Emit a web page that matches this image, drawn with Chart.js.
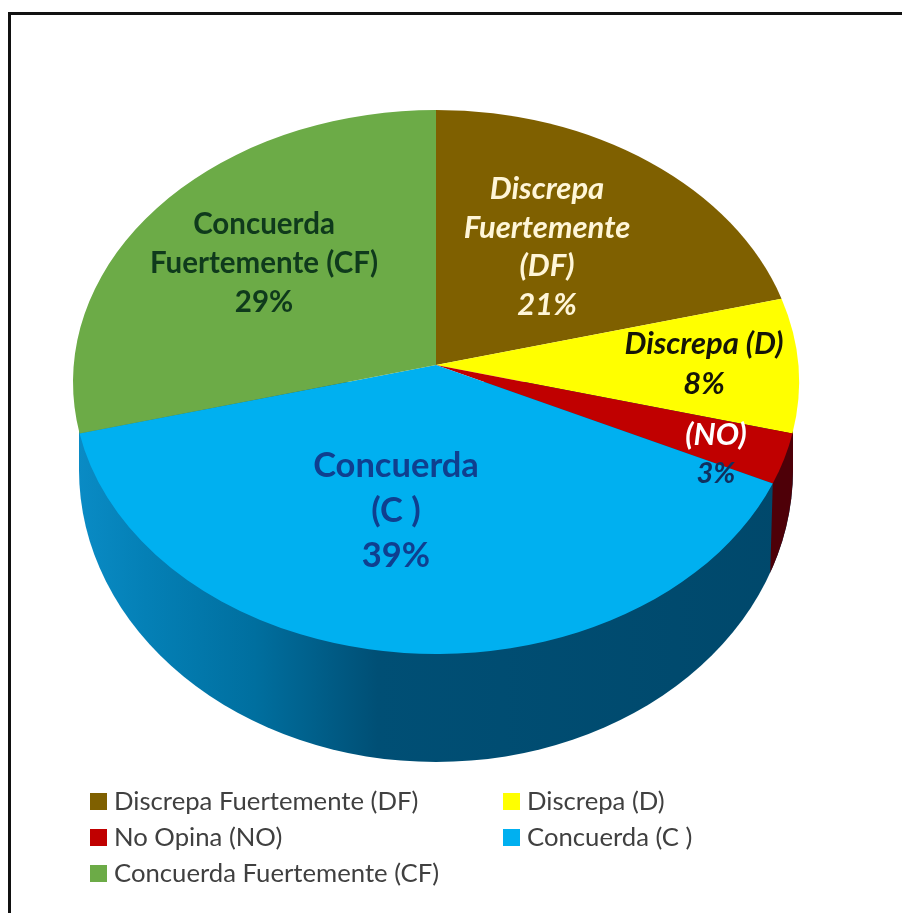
<!DOCTYPE html>
<html>
<head>
<meta charset="utf-8">
<script src="https://cdn.jsdelivr.net/npm/chart.js@4"></script>
<style>
    body { margin: 0; background: #fff; font-family: Lato, sans-serif; }
    #page { position: relative; width: 902px; height: 913px; overflow: hidden; }
    #frame { position: absolute; left: 8px; top: 12px; right: -4px; bottom: -4px; border: 3px solid #111; }
    canvas { position: absolute; left: 0; top: 0; }
    #legend { position: absolute; left: 90px; top: 782px; display: grid; grid-template-columns: 413px auto; font-size: 25.7px; line-height: 36px; color: #404040; }
    #legend span { display: inline-block; width: 17px; height: 17px; margin-right: 7px; }
</style>
</head>
<body>
<div id="page">
    <div id="frame"></div>
    <canvas id="pie-chart" width="902" height="913"></canvas>
    <div id="legend"></div>
</div>
<script>
// Chart data
const categories = ['Discrepa Fuertemente (DF)', 'Discrepa (D)', 'No Opina (NO)', 'Concuerda (C )', 'Concuerda Fuertemente (CF)'];
const percents = [21, 8, 3, 39, 29];
const sliceColors = ['#7f6000', '#ffff00', '#c00000', '#00b0f0', '#6cab47'];

// Perspective of the pie: the face is an ellipse and the pie centre sits above its middle
const faceRy = 272;
const centreShift = -0.0625;
const sideDepth = 105;
const bottomRadius = 357;
const bottomRy = 292;

// Slice labels
const sliceLabels = [
    { lines: ['Discrepa', 'Fuertemente', '(DF)', '21%'], x: 547, y: 189, gap: 38.5, font: 'italic bold 31px Lato', color: '#fff6d8' },
    { lines: ['Discrepa (D)', '8%'], x: 704, y: 344, gap: 40, font: 'italic bold 31px Lato', color: '#151508' },
    { lines: ['(NO)'], x: 716, y: 435, gap: 0, font: 'italic bold 31px Lato', color: '#fff' },
    { lines: ['3%'], x: 716, y: 474, gap: 0, font: 'italic bold 29px Lato', color: '#10305f' },
    { lines: ['Concuerda', '(C )', '39%'], x: 396, y: 466, gap: 45, font: 'bold 34.5px Lato', color: '#0f3f8f' },
    { lines: ['Concuerda', 'Fuertemente (CF)', '29%'], x: 264, y: 224, gap: 39, font: 'bold 29.5px Lato', color: '#0f3a1c' }
];

// Where a slice angle lands on the face ellipse after the perspective
function faceAngle(angle) {
    const k = centreShift;
    const w = 1 + k * Math.sin(angle);
    return Math.atan2((Math.sin(angle) + k) / w, Math.cos(angle) * Math.sqrt(1 - k * k) / w);
}

// Draws the pie side and then the slices in perspective
const tiltedPie = {
    id: 'tiltedPie',
    beforeDatasetsDraw(chart) {
        const ctx = chart.ctx;
        const arcs = chart.getDatasetMeta(0).data;
        const cx = arcs[0].x;
        const cy = arcs[0].y;
        const r = arcs[0].outerRadius;
        const faceY = cy - centreShift * faceRy;

        // Side wall outline
        function wallPath() {
            ctx.beginPath();
            ctx.ellipse(cx, cy + sideDepth, bottomRadius, bottomRy, 0, 0, Math.PI);
            ctx.lineTo(cx - bottomRadius, faceY);
            ctx.lineTo(cx + bottomRadius, faceY);
            ctx.closePath();
        }

        const wallGradient = ctx.createLinearGradient(cx - r, 0, cx + r, 0);
        wallGradient.addColorStop(0, '#0a8cc6');
        wallGradient.addColorStop(0.1, '#0480b6');
        wallGradient.addColorStop(0.25, '#006f9f');
        wallGradient.addColorStop(0.42, '#004f75');
        wallGradient.addColorStop(1, '#00486b');
        wallPath();
        ctx.fillStyle = wallGradient;
        ctx.fill();

        // The small red slice shows on the side too, right of where it meets the blue
        const redEnd = faceAngle(arcs[2].endAngle);
        const redX = cx + r * Math.cos(redEnd);
        const redY = faceY + faceRy * Math.sin(redEnd);
        ctx.save();
        ctx.beginPath();
        ctx.moveTo(redX, redY);
        ctx.lineTo(redX - 3, redY + sideDepth);
        ctx.lineTo(chart.width, redY + sideDepth);
        ctx.lineTo(chart.width, redY - 60);
        ctx.lineTo(redX, redY - 60);
        ctx.closePath();
        ctx.clip();
        wallPath();
        ctx.fillStyle = '#4e0008';
        ctx.fill();
        ctx.restore();

        // Face of the pie
        arcs.forEach(arc => {
            ctx.beginPath();
            ctx.moveTo(cx, cy);
            ctx.ellipse(cx, faceY, r, faceRy, 0, faceAngle(arc.startAngle), faceAngle(arc.endAngle));
            ctx.closePath();
            ctx.fillStyle = arc.options.backgroundColor;
            ctx.fill();
        });

        return false;
    },
    afterDraw(chart) {
        const ctx = chart.ctx;
        ctx.save();
        ctx.textAlign = 'center';
        ctx.textBaseline = 'middle';
        sliceLabels.forEach(label => {
            ctx.font = label.font;
            ctx.fillStyle = label.color;
            label.lines.forEach((line, i) => ctx.fillText(line, label.x, label.y + i * label.gap));
        });
        ctx.restore();
    }
};

new Chart(document.getElementById('pie-chart'), {
    type: 'pie',
    data: {
        labels: categories,
        datasets: [{
            data: percents,
            backgroundColor: sliceColors,
            borderWidth: 0
        }]
    },
    options: {
        responsive: false,
        animation: false,
        layout: { padding: { left: 73, right: 103, top: 2, bottom: 185 } },
        plugins: {
            legend: { display: false },
            tooltip: { enabled: false }
        }
    },
    plugins: [tiltedPie]
});

// Legend
const legend = document.getElementById('legend');
categories.forEach((name, i) => {
    const item = document.createElement('div');
    item.innerHTML = `<span style="background:${sliceColors[i]}"></span>${name}`;
    legend.appendChild(item);
});
</script>
</body>
</html>
